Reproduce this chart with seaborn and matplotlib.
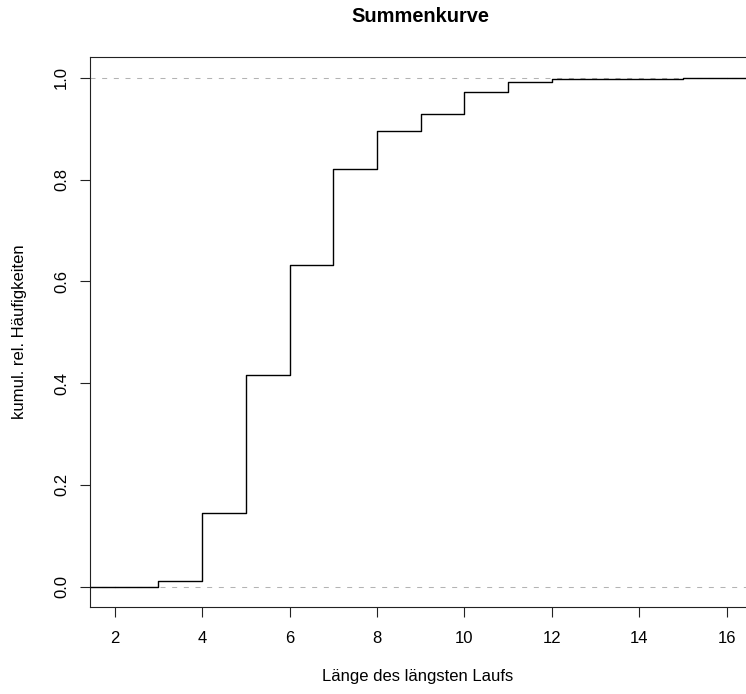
import matplotlib
matplotlib.use("Agg")
import matplotlib.pyplot as plt
import seaborn as sns
import pandas as pd

# Längster Lauf: Länge und kumulierte relative Häufigkeiten
laenge = [2, 3, 4, 5, 6, 7, 8, 9, 10, 11, 12, 13, 14, 15, 16]
kumul = [0.0, 0.012, 0.144, 0.416, 0.632, 0.820, 0.896, 0.928,
         0.972, 0.991, 0.997, 0.997, 0.997, 1.0, 1.0]

x_ticks = [2, 4, 6, 8, 10, 12, 14, 16]
y_ticks = [0.0, 0.2, 0.4, 0.6, 0.8, 1.0]

titel = "Summenkurve"
x_titel = "Länge des längsten Laufs"
y_titel = "kumul. rel. Häufigkeiten"

sns.set_style("ticks")
plt.rcParams["font.family"] = ["Liberation Sans", "DejaVu Sans"]
plt.rcParams["text.color"] = "black"

df = pd.DataFrame({"laenge": laenge, "kumul": kumul})

W, H = 746, 694
fig = plt.figure(figsize=(W / 100, H / 100), dpi=100)
ax = fig.add_axes([90 / W, 1 - 607 / H, (W - 90) / W, (607 - 57) / H])

xmin, xmax = 1.437, 16.44
ax.set_xlim(xmin, xmax)
ax.set_ylim(-0.04, 1.041)

# Hilfslinien bei 0 und 1
for h in (0.0, 1.0):
    ax.axhline(h, color="#b3b3b3", linewidth=0.75,
               linestyle=(0, (4.8, 6.4)), zorder=1)

# Treppenfunktion
sns.lineplot(data=df, x="laenge", y="kumul", drawstyle="steps-post",
             color="black", linewidth=1.0, ax=ax, zorder=3)
ax.hlines(kumul[0], xmin, laenge[0], color="black", linewidth=1.0, zorder=3)
ax.hlines(kumul[-1], laenge[-1], xmax, color="black", linewidth=1.0, zorder=3)

ax.set_xticks(x_ticks)
ax.set_xticklabels([str(v) for v in x_ticks])
ax.set_yticks(y_ticks)
ax.set_yticklabels([f"{v:.1f}" for v in y_ticks], rotation=90, va="center")

ax.tick_params(axis="both", direction="out", length=7.2, width=0.8,
               color="#222222", labelsize=12, labelcolor="black")
ax.tick_params(axis="x", pad=10)
ax.tick_params(axis="y", pad=8)

for side in ("left", "bottom", "top"):
    ax.spines[side].set_linewidth(0.8)
    ax.spines[side].set_color("#222222")
ax.spines["right"].set_visible(False)

ax.set_xlabel("")
ax.set_ylabel("")
fig.text(418 / W, 1 - 677 / H, x_titel, ha="center", va="center",
         fontsize=12, color="black")
fig.text(20 / W, 1 - 332 / H, y_titel, ha="center", va="center",
         rotation=90, fontsize=12, color="black")
fig.text(420 / W, 1 - 16 / H, titel, ha="center", va="center",
         fontsize=14.4, fontweight="bold", color="black")

fig.savefig("out.png", dpi=100)
